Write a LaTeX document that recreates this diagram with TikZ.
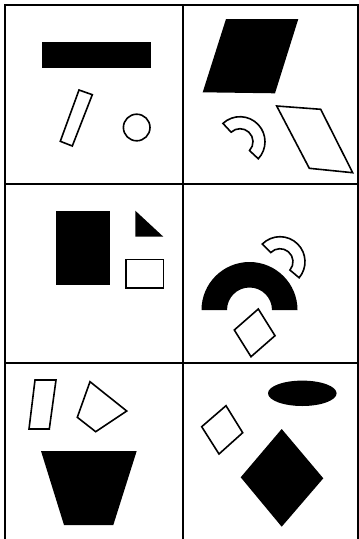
\documentclass[tikz,border=0pt]{standalone}
\begin{document}
\begin{tikzpicture}[x=1pt,y=-1pt,
  gridline/.style={line width=2pt,black},
  outline/.style={draw=black,line width=1.6pt,line join=miter,fill=white},
  solid fill/.style={fill=black,draw=none}]
\useasboundingbox (0,0) rectangle (359,539);
% grid
\coordinate (tl) at (4.5,4.5);
\coordinate (tr) at (357.5,4.5);
\draw[gridline] (4.5,539) -- (tl) -- (tr) -- (357.5,539);
\draw[gridline] (182.8,4.5) -- (182.8,539);
\draw[gridline] (4.5,183.5) -- (357.5,183.5);
\draw[gridline] (4.5,363.3) -- (357.5,363.3);
% cell 1
\fill[solid fill] (42.3,42.3) rectangle (151,68);
\draw[outline] (79,90) -- (92.3,94.7) -- (72.3,146) -- (60.3,141.3) -- cycle;
\draw[outline] (136.7,127.5) circle (13.3);
% cell 2
\fill[solid fill] (226,19) -- (298.3,19) -- (275,93.3) -- (202.7,92.3) -- cycle;
\draw[outline] (240,141.7) ++(-133:25) arc[start angle=-133,end angle=43,radius=25]
   -- ++(223:12) arc[start angle=43,end angle=-133,radius=13] -- cycle;
\draw[outline] (276.7,106) -- (320.7,109.3) -- (352.7,172.7) -- (309.3,168.3) -- cycle;
% cell 3
\fill[solid fill] (55.7,210.7) rectangle (110.3,285.3);
\fill[solid fill] (135.3,210.7) -- (135.3,236.7) -- (163.3,236.7) -- cycle;
\draw[outline] (125.7,259.3) rectangle (163.3,287.7);
% cell 4
\fill[solid fill] (201.5,310) arc[start angle=180,end angle=360,radius=48] -- (272,310)
   arc[start angle=0,end angle=-180,radius=22.5] -- cycle;
\draw[outline] (280,261.7) ++(-135:25) arc[start angle=-135,end angle=40,radius=25]
   -- ++(220:12) arc[start angle=40,end angle=-135,radius=13] -- cycle;
\draw[outline] (234.3,330) -- (258.3,309) -- (275,335.7) -- (251,356.7) -- cycle;
% cell 5
\draw[outline] (35,380) -- (56,380) -- (49.3,429) -- (29,429) -- cycle;
\draw[outline] (90,381.7) -- (126.7,411) -- (95.7,431.7) -- (77.3,417.3) -- cycle;
\fill[solid fill] (41,451) -- (136.7,451) -- (113.3,525) -- (64,525) -- cycle;
% cell 6
\fill[solid fill] (302.3,393.3) ellipse[x radius=34.3,y radius=12.7];
\draw[outline] (201.7,426.7) -- (226,405.7) -- (242.7,432.7) -- (219,454) -- cycle;
\fill[solid fill] (240.7,477.3) -- (281.7,429) -- (323.3,478.3) -- (281.7,526.7) -- cycle;
\end{tikzpicture}
\end{document}
